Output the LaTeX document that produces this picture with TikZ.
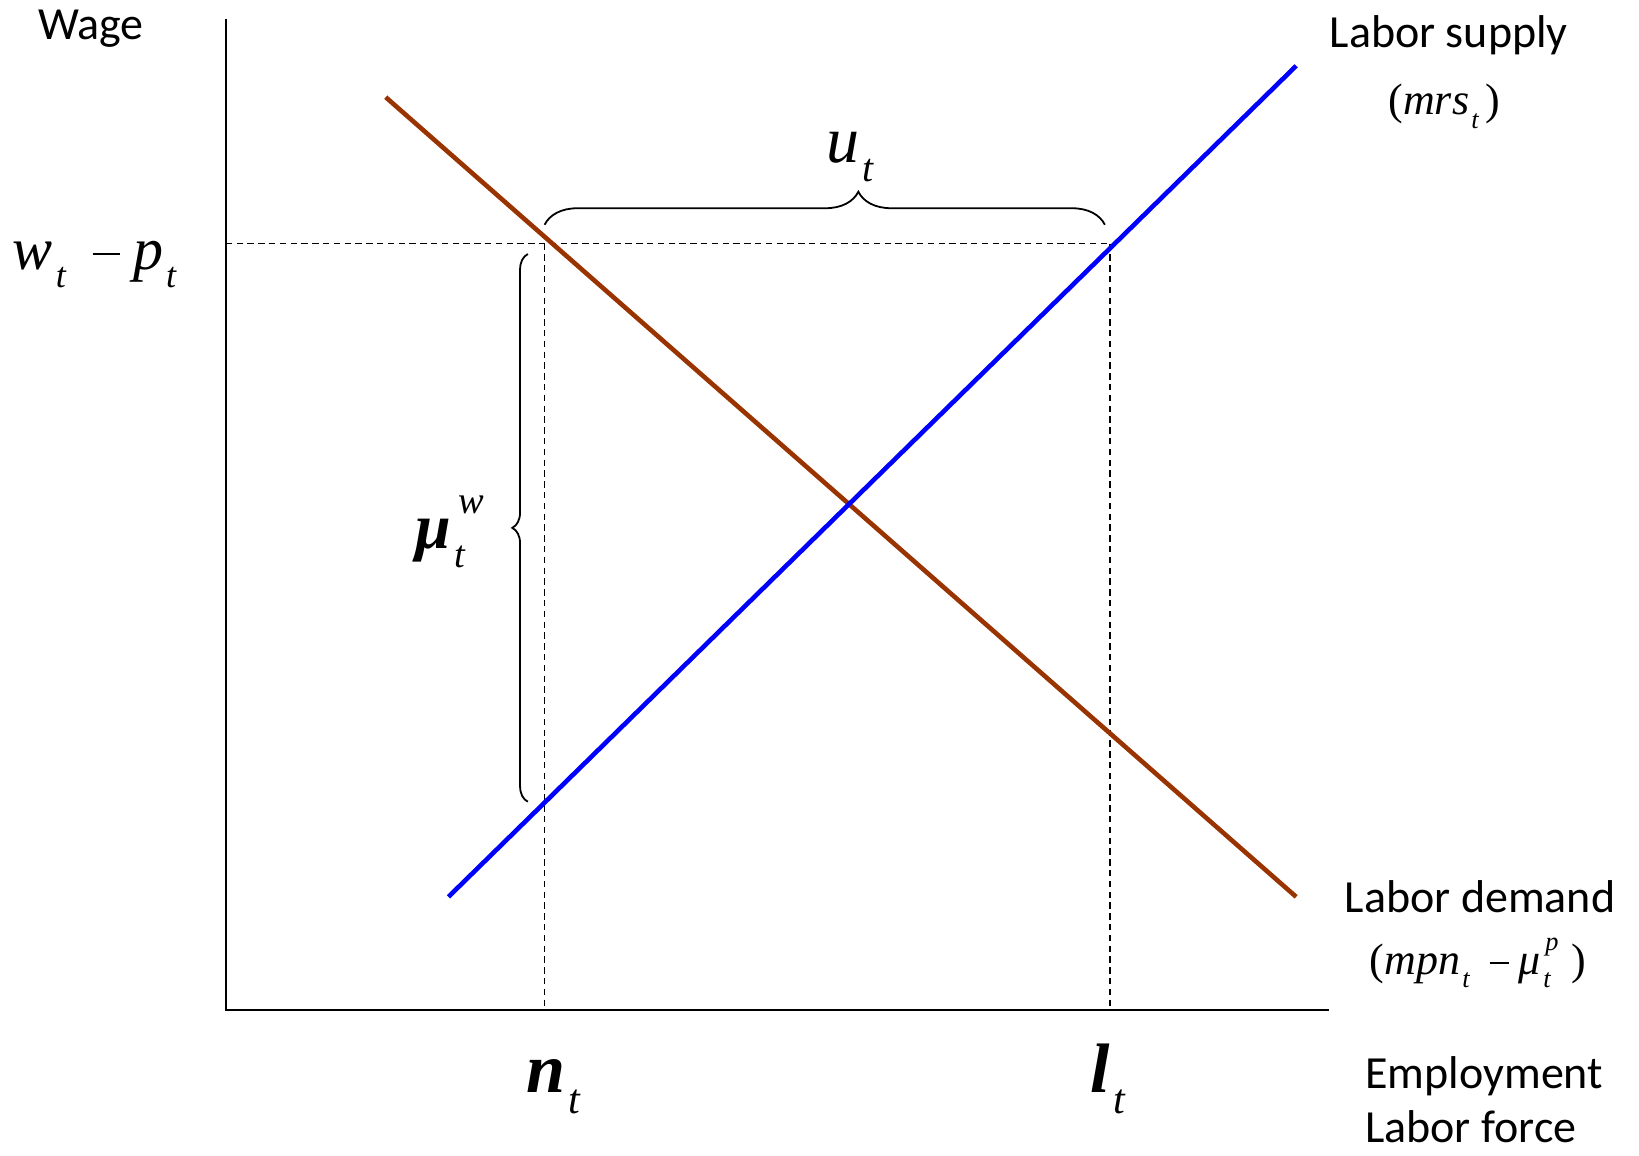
\documentclass[tikz,border=0pt]{standalone}
\usepackage{fontspec}
\usepackage{graphicx}
\setmainfont{Carlito}
\newfontfamily\tms{Liberation Serif}
\usetikzlibrary{decorations.pathreplacing}
\definecolor{demand}{RGB}{153,51,0}
\definecolor{supply}{RGB}{0,0,255}
\newcommand\mi[1]{{\tms\itshape #1}}
\newcommand\mb[1]{{\tms\bfseries\itshape #1}}
\newcommand\lsub[1]{\hspace{0.05em}\raisebox{-0.3em}{\scalebox{0.6}{\tms\itshape #1}}}
\newcommand\mminus{\hspace{0.45em}\rule[0.24em]{0.45em}{0.045em}\hspace{0.22em}}
\begin{document}
\begin{tikzpicture}[x=0.52265pt,y=-0.52265pt,
  axis/.style={line width=1.1pt},
  guide/.style={line width=0.85pt, dash pattern=on 3.2pt off 2.2pt},
  curve/.style={line width=2.3pt},
  brc/.style={decorate, line width=0.9pt},
  lab/.style={font=\fontsize{23}{28}\selectfont, inner sep=0pt},
  eq/.style={inner sep=0pt, anchor=base west}]
\useasboundingbox (0,0) rectangle (1568,1105);
% axes
\coordinate (Ytop) at (216,18);
\coordinate (O) at (216,966);
\coordinate (Xend) at (1271,966);
\draw[axis] (Ytop) -- (O) -- (Xend);
% guide points
\coordinate (W0) at (216,233);
\coordinate (A) at (521,233);
\coordinate (B) at (1062,233);
\coordinate (An) at (521,966);
\coordinate (Bl) at (1062,966);
\draw[guide] (W0) -- (B);
\draw[guide] (A) -- (An);
\draw[guide] (B) -- (Bl);
% curves
\coordinate (D1) at (369,93);
\coordinate (D2) at (1240,858);
\coordinate (S1) at (429,858);
\coordinate (S2) at (1240,63);
\draw[curve, demand] (D1) -- (D2);
\draw[curve, supply] (S1) -- (S2);
% braces
\coordinate (U1) at (521,215);
\coordinate (U2) at (1057,215);
\draw[brc, decoration={brace, amplitude=16.5pt, aspect=0.56}] (U1) -- (U2);
\coordinate (M1) at (505,767);
\coordinate (M2) at (505,243);
\draw[brc, decoration={brace, amplitude=7.8pt, aspect=0.5}] (M1) -- (M2);
% labels
\node[lab] (wage) at (87,27) {Wage};
\node[eq, font=\fontsize{30}{36}\selectfont] (wp) at (12,258) {\mi{w}\lsub{t}\mminus\mi{p}\lsub{t}};
\node[lab] (ls) at (1386,34) {Labor supply};
\node[eq, font=\fontsize{22}{26}\selectfont] (mrs) at (1328,110) {{\tms(}\mi{mrs}\lsub{t}\hspace{0.15em}{\tms)}};
\node[eq, font=\fontsize{33}{40}\selectfont] (ut) at (790,155) {\mi{u}\lsub{t}};
\node[eq, font=\fontsize{32}{38}\selectfont] (mw) at (397,525) {\mb{μ}\rlap{\lsub{t}}\raisebox{0.55em}{\hspace{0.12em}\scalebox{0.6}{\mi{w}}}};
\node[lab] (ld) at (1416,858) {Labor demand};
\node[eq, font=\fontsize{22}{26}\selectfont] (mpn) at (1310,932) {{\tms(}\mi{mpn}\lsub{t}\mminus\mi{μ}\rlap{\lsub{t}}\raisebox{0.55em}{\hspace{0.1em}\scalebox{0.6}{\mi{p}}}\hspace{0.3em}{\tms)}};
\node[eq, font=\fontsize{35}{42}\selectfont] (nt) at (503,1045) {\mb{n}\lsub{t}};
\node[eq, font=\fontsize{35}{42}\selectfont] (lt) at (1043,1045) {\mb{l}\lsub{t}};
\node[lab] (emp) at (1420,1030) {Employment};
\node[lab] (lf) at (1407,1078) {Labor force};
\end{tikzpicture}
\end{document}
